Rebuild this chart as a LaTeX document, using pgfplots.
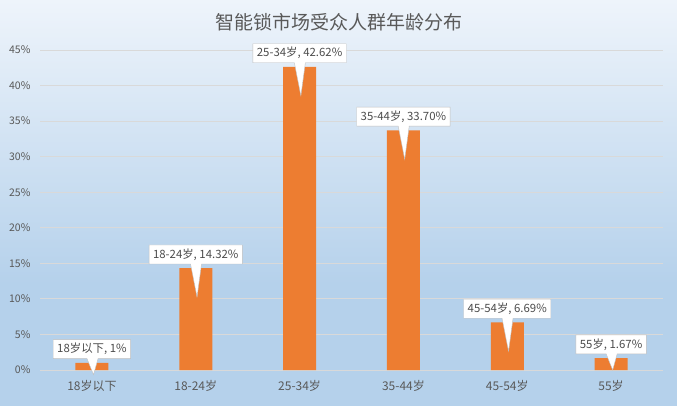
\documentclass[border=0pt]{standalone}
\usepackage{pgfplots}
\pgfplotsset{compat=1.18}
\usepackage{fontspec}
\setmainfont{Noto Sans CJK SC}
\usetikzlibrary{shapes.callouts}
\definecolor{barc}{HTML}{ED7D31}
\definecolor{txt}{HTML}{595959}
\definecolor{gridc}{HTML}{D9D9D9}
\definecolor{bg0}{HTML}{F6FAFD}
\definecolor{bg1}{HTML}{EEF4FB}
\definecolor{bg2}{HTML}{B5D1EB}
\definecolor{bg3}{HTML}{C4DBF0}
\pgfdeclareverticalshading{bgshade}{100bp}{color(0bp)=(bg3); color(10bp)=(bg2); color(40bp)=(bg2); color(75bp)=(bg1); color(100bp)=(bg0)}
\tikzset{calloutlbl/.style={rectangle callout, draw=black!25, fill=white, text=black!70,
    font=\fontsize{11.4}{13}\selectfont, inner xsep=4pt, inner ysep=3pt,
    minimum height=19pt, anchor=south, yshift=4pt, callout pointer width=11pt}}
\begin{document}
\begin{tikzpicture}[x=1pt,y=1pt]
\shade[shading=bgshade] (0,0) rectangle (677,405);
\node[text=txt, font=\fontsize{19}{22}\selectfont] at (339,383) {智能锁市场受众人群年龄分布};
\begin{axis}[
  at={(40pt,35pt)}, anchor=south west,
  scale only axis, width=623pt, height=320pt,
  xmin=-0.5, xmax=5.5, ymin=0, ymax=45,
  axis line style={draw=none},
  ytick={0,5,...,45},
  xtick={0,...,5},
  xticklabels={18岁以下,18-24岁,25-34岁,35-44岁,45-54岁,55岁},
  yticklabel={\pgfmathprintnumber{\tick}\%},
  /pgf/number format/assume math mode=true,
  ymajorgrids, grid style={gridc, line width=0.8pt},
  major tick length=0pt,
  tick label style={text=txt},
  yticklabel style={font=\fontsize{10.5}{12}\selectfont, anchor=east, xshift=-6pt},
  xticklabel style={font=\fontsize{12}{14}\selectfont, anchor=north, yshift=-7pt},
  clip=false,
]
\addplot[ybar, bar width=33pt, fill=barc, draw=none] coordinates {(0,1) (1,14.32) (2,42.62) (3,33.70) (4,6.69) (5,1.67)};
\addplot[draw=none, mark=none, point meta=explicit symbolic,
  nodes near coords,
  nodes near coords style={calloutlbl, callout relative pointer={(1pt,-33pt)}}]
  coordinates {(1,14.32)[18-24岁, 14.32\%] (2,42.62)[25-34岁, 42.62\%] (3,33.70)[35-44岁, 33.70\%] (4,6.69)[45-54岁, 6.69\%]};
\addplot[draw=none, mark=none, point meta=explicit symbolic,
  nodes near coords,
  nodes near coords style={calloutlbl, callout relative pointer={(1pt,-16pt)}}]
  coordinates {(0,1)[18岁以下, 1\%] (5,1.67)[55岁, 1.67\%]};
\end{axis}
\end{tikzpicture}
\end{document}
